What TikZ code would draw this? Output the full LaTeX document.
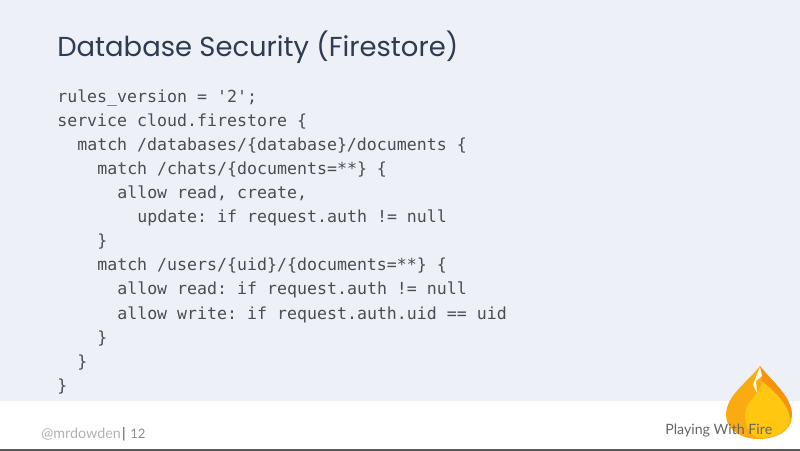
\documentclass[tikz,border=0pt]{standalone}
\usepackage{fontspec}
\usepackage{xcolor}
\setmainfont{Open Sans}
\newfontfamily\codefont{DejaVu Sans Mono}
\newfontfamily\titlefont{Poppins}
\newfontfamily\footfont{Lato}
\definecolor{slidebg}{HTML}{EDF1F7}
\definecolor{titleink}{HTML}{2E3B50}
\definecolor{codeink}{HTML}{4A4D51}
\definecolor{flameouter}{HTML}{FAAB12}
\definecolor{flamedark}{HTML}{F6920C}
\definecolor{flameinner}{HTML}{FFC70F}
\tikzset{
  codeline/.style={anchor=base west,inner sep=0,text=codeink,font=\codefont\fontsize{11.8}{12}\selectfont\frenchspacing},
  footline/.style={anchor=base west,inner sep=0,font=\footfont\fontsize{10.2}{12}\selectfont}
}
\begin{document}
\begin{tikzpicture}[x=.025cm,y=-.025cm]
  \useasboundingbox (0,0) rectangle (800,451);
  \fill[white] (0,0) rectangle (800,451);
  \fill[slidebg] (0,0) rectangle (800,401);
  \fill[black!65] (0,449) rectangle (800,451);
  \node[anchor=base west,inner sep=0,text=titleink,font=\titlefont\fontsize{19.5}{22}\selectfont] (title) at (57,57) {Database Security (Firestore)};
  % code
  \node[codeline] (line1) at (57,103) {rules\_version = '2';};
  \node[codeline] (line2) at (57,127) {service cloud.firestore \{};
  \node[codeline] (line3) at (77,151) {match /databases/\{database\}/documents \{};
  \node[codeline] (line4) at (97,175) {match /chats/\{documents=**\} \{};
  \node[codeline] (line5) at (117,199) {allow read, create,};
  \node[codeline] (line6) at (137,223) {update: if request.auth != null};
  \node[codeline] (line7) at (97,247) {\}};
  \node[codeline] (line8) at (97,271) {match /users/\{uid\}/\{documents=**\} \{};
  \node[codeline] (line9) at (117,295) {allow read: if request.auth != null};
  \node[codeline] (line10) at (117,319) {allow write: if request.auth.uid == uid};
  \node[codeline] (line11) at (97,343) {\}};
  \node[codeline] (line12) at (77,367) {\}};
  \node[codeline] (line13) at (57,391) {\}};
  % flame
  \fill[flameouter] (760,366) .. controls (748,382) and (726,395) .. (726,415)
    .. controls (726,430) and (742,439) .. (758,439)
    .. controls (776,439) and (792,431) .. (792,416)
    .. controls (792,396) and (772,382) .. (760,366) -- cycle;
  \fill[flamedark] (760,366) .. controls (772,382) and (792,396) .. (792,416)
    -- (780,428) -- (762,381) -- cycle;
  \fill[flameinner] (757,393) .. controls (750,401) and (745,407) .. (745,415)
    .. controls (745,427) and (751,437) .. (760,438)
    .. controls (776,438) and (790,430) .. (790,419)
    .. controls (789,405) and (774,391) .. (762,381)
    .. controls (761,386) and (759,390) .. (757,393) -- cycle;
  \fill[white!90!yellow] (760,367) -- (762,376) -- (756,381) -- (757,393) -- (753,385) -- (757,374) -- cycle;
  \node[anchor=base west,inner sep=0,text=black!60,font=\footfont\fontsize{10.1}{12}\selectfont] (brand) at (665,434) {Playing With Fire};
  % footer
  \node[footline,text=black!30] (handle) at (41,438) {@mrdowden};
  \node[footline,text=black!70,anchor=base] (bar) at (124,438) {|};
  \node[footline,text=black!45,font=\footfont\fontsize{9.3}{12}\selectfont] (page) at (130,438) {12};
\end{tikzpicture}
\end{document}
